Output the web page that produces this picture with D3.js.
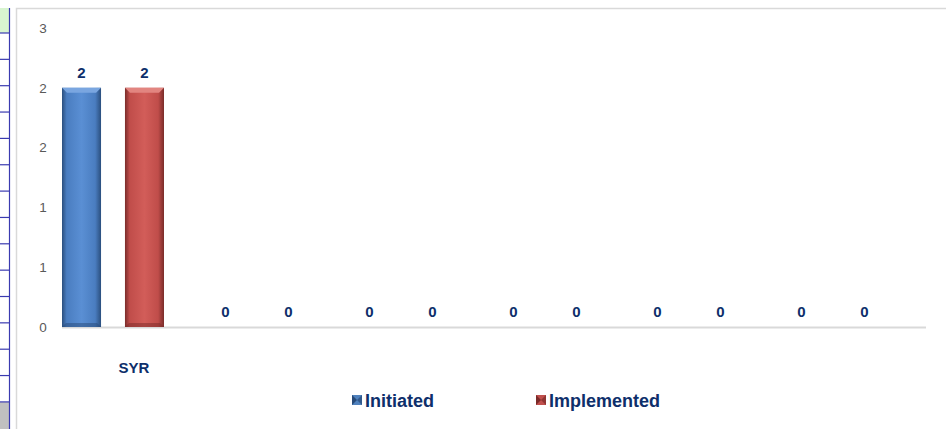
<!DOCTYPE html>
<html><head><meta charset="utf-8">
<script src="https://cdn.jsdelivr.net/npm/d3@7"></script>
<style>body{margin:0;background:#fff;}svg{display:block;font-family:"Liberation Sans",Arial,sans-serif;}</style>
</head><body><svg id="c" width="946" height="429"></svg>
<script>
const categories = ["SYR", "", "", "", "", ""];
const seriesNames = ["Initiated", "Implemented"];
const initiated = [2, 0, 0, 0, 0, 0];
const implemented = [2, 0, 0, 0, 0, 0];
const yTicks = [0, 0.5, 1, 1.5, 2, 2.5];
const yTickLabels = ["0", "1", "1", "2", "2", "3"];

const svg = d3.select("#c");
const W = 946, H = 429;
const navy = "#0E2F6B";

// spreadsheet strip on the left
const strip = svg.append("g");
strip.append("rect").attr("x", 0).attr("y", 8).attr("width", 9).attr("height", 25).attr("fill", "#d8f5d0");
strip.append("rect").attr("x", 0).attr("y", 402).attr("width", 9).attr("height", 27).attr("fill", "#c0c0c0");
d3.range(15).forEach(i => {
  const yy = 33 + i * 26.35;
  strip.append("line").attr("x1", 0).attr("x2", 10).attr("y1", yy).attr("y2", yy).attr("stroke", "#3a3ab0").attr("stroke-width", 1.2);
});
strip.append("line").attr("x1", 9.5).attr("x2", 9.5).attr("y1", 8).attr("y2", H).attr("stroke", "#3a3ab0").attr("stroke-width", 1.2);

// chart frame
svg.append("path").attr("d", `M16.5,${H} V8.5 H${W}`).attr("fill", "none").attr("stroke", "#d9d9d9").attr("stroke-width", 1.5);

const plotL = 62, plotR = 926, y0 = 327, yTop = 28;
const x = d3.scaleBand().domain(d3.range(categories.length)).range([plotL, plotR]);
const inner = d3.scaleBand().domain(seriesNames).range([0, 102]).paddingInner(0.38);
const y = d3.scaleLinear().domain([0, 2.5]).range([y0, yTop]);

const defs = svg.append("defs");
function grad(id, dark, mid, light) {
  const g = defs.append("linearGradient").attr("id", id).attr("x1", 0).attr("x2", 1).attr("y1", 0).attr("y2", 0);
  g.append("stop").attr("offset", 0).attr("stop-color", dark);
  g.append("stop").attr("offset", 0.12).attr("stop-color", mid);
  g.append("stop").attr("offset", 0.5).attr("stop-color", light);
  g.append("stop").attr("offset", 0.85).attr("stop-color", mid);
  g.append("stop").attr("offset", 1).attr("stop-color", dark);
}
grad("gBlue", "#2b4f7e", "#4a7dc0", "#5a8fd4");
grad("gRed", "#7a2c2a", "#c04d4a", "#d25d59");
const colors = {Initiated: {fill: "url(#gBlue)", top: "#7aa6e0", dark: "#274a78", base: "#4F81BD"},
                Implemented: {fill: "url(#gRed)", top: "#e28580", dark: "#7a2a28", base: "#C0504D"}};

// y-axis tick labels
const yAxis = d3.axisLeft(y).tickValues(yTicks).tickFormat((d, i) => yTickLabels[i]).tickSize(0).tickPadding(0);
const ya = svg.append("g").attr("transform", "translate(47,0)").call(yAxis);
ya.select(".domain").remove();
ya.selectAll("text").attr("font-size", 13.5).attr("fill", "#595959").attr("text-anchor", "middle").attr("dx", -4)
  .attr("font-family", "Liberation Sans, Arial, sans-serif");

// x-axis line
svg.append("line").attr("x1", plotL).attr("x2", plotR).attr("y1", y0 + 0.5).attr("y2", y0 + 0.5).attr("stroke", "#d9d9d9").attr("stroke-width", 2);

const data = [initiated, implemented];
seriesNames.forEach((s, si) => {
  const vals = data[si];
  const g = svg.append("g");
  vals.forEach((v, i) => {
    const bx = x(i) + inner(s);
    const bw = inner.bandwidth();
    const by = y(v);
    const bh = y0 - by;
    if (bh > 0) {
      g.append("rect").attr("x", bx).attr("y", by).attr("width", bw).attr("height", bh).attr("fill", colors[s].fill);
      // top bevel
      g.append("path").attr("d", `M${bx},${by} H${bx + bw} L${bx + bw - 5},${by + 5} H${bx + 5} Z`).attr("fill", colors[s].top);
      // bottom bevel
      g.append("path").attr("d", `M${bx},${y0} H${bx + bw} L${bx + bw - 4},${y0 - 4} H${bx + 4} Z`).attr("fill", colors[s].dark).attr("opacity", 0.5);
    }
    g.append("text").attr("x", bx + bw / 2).attr("y", by - 10).attr("text-anchor", "middle")
      .attr("font-size", 15).attr("font-weight", "bold").attr("fill", navy).text(v);
  });
});

// category labels
svg.append("g").selectAll("text").data(categories).join("text")
  .attr("x", (d, i) => x(i) + x.bandwidth() / 2).attr("y", 373).attr("text-anchor", "middle")
  .attr("font-size", 15).attr("font-weight", "bold").attr("fill", navy).text(d => d);

// legend
const legendX = [352, 536];
seriesNames.forEach((s, i) => {
  const lg = svg.append("g").attr("transform", `translate(${legendX[i]},395)`);
  lg.append("rect").attr("x", 0).attr("y", 0).attr("width", 10).attr("height", 10).attr("fill", colors[s].base);
  lg.append("path").attr("d", "M0,0 L5,5 L0,10 Z").attr("fill", colors[s].dark);
  lg.append("path").attr("d", "M10,0 L5,5 L10,10 Z").attr("fill", colors[s].dark).attr("opacity", 0.7);
  lg.append("text").attr("x", 13).attr("y", 11.5).attr("font-size", 18).attr("font-weight", "bold").attr("fill", navy).text(s);
});
</script></body></html>
